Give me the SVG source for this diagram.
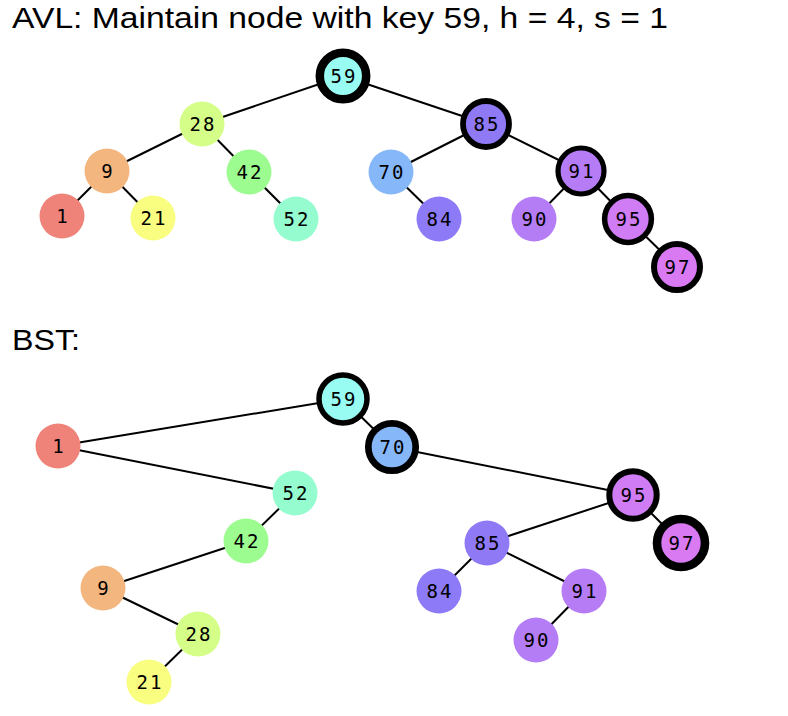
<svg xmlns="http://www.w3.org/2000/svg" width="788" height="716" viewBox="0 0 788 716">
<style>
.t{font-family:"Liberation Sans",Arial,sans-serif;font-size:29px;fill:#000}
.e line{stroke:#000;stroke-width:2}
.n circle{stroke:none}
.n .k{stroke:#000}
.n text{font-family:"DejaVu Sans Mono",monospace;font-size:19px;text-anchor:middle;letter-spacing:2px;fill:#000}
</style>
<rect width="788" height="716" fill="#fff"/>
<text class="t" x="12" y="28" textLength="656" lengthAdjust="spacingAndGlyphs">AVL: Maintain node with key 59, h = 4, s = 1</text>
<text class="t" x="12" y="350" textLength="68" lengthAdjust="spacingAndGlyphs">BST:</text>
<g class="e" id="connectors">
<line x1="343" y1="76" x2="202" y2="124"/>
<line x1="343" y1="76" x2="486" y2="124"/>
<line x1="202" y1="124" x2="107" y2="171"/>
<line x1="202" y1="124" x2="249" y2="172"/>
<line x1="107" y1="171" x2="62" y2="216"/>
<line x1="107" y1="171" x2="153" y2="218"/>
<line x1="249" y1="172" x2="296" y2="219"/>
<line x1="486" y1="124" x2="391" y2="172"/>
<line x1="486" y1="124" x2="581" y2="171"/>
<line x1="391" y1="172" x2="439" y2="219"/>
<line x1="581" y1="171" x2="534" y2="219"/>
<line x1="581" y1="171" x2="628" y2="219"/>
<line x1="628" y1="219" x2="677" y2="267"/>
<line x1="58" y1="446" x2="343" y2="399"/>
<line x1="58" y1="446" x2="295" y2="493"/>
<line x1="343" y1="399" x2="392" y2="447"/>
<line x1="392" y1="447" x2="633" y2="495"/>
<line x1="633" y1="495" x2="681" y2="543"/>
<line x1="633" y1="495" x2="487" y2="543"/>
<line x1="487" y1="543" x2="439" y2="591"/>
<line x1="487" y1="543" x2="584" y2="591"/>
<line x1="584" y1="591" x2="536" y2="640"/>
<line x1="295" y1="493" x2="246" y2="541"/>
<line x1="246" y1="541" x2="103" y2="588"/>
<line x1="103" y1="588" x2="198" y2="634"/>
<line x1="198" y1="634" x2="149" y2="682"/>
</g>
<g class="n">
<g id="avl-59"><circle class="k" cx="343" cy="76" r="23.2" stroke-width="8.5" fill="#99fcf2"/><text x="344" y="83">59</text></g>
<g id="avl-28"><circle cx="202" cy="124" r="22.5" fill="#d5fe88"/><text x="203" y="131">28</text></g>
<g id="avl-85"><circle class="k" cx="486" cy="124" r="23" stroke-width="5.8" fill="#8f79f5"/><text x="487" y="131">85</text></g>
<g id="avl-9"><circle cx="107" cy="171" r="22.5" fill="#f3b67e"/><text x="108" y="178">9</text></g>
<g id="avl-42"><circle cx="249" cy="172" r="22.5" fill="#9cfc8f"/><text x="250" y="179">42</text></g>
<g id="avl-70"><circle cx="391" cy="172" r="22.5" fill="#86b7f8"/><text x="392" y="179">70</text></g>
<g id="avl-91"><circle class="k" cx="581" cy="171" r="23" stroke-width="5.2" fill="#b57cf5"/><text x="582" y="178">91</text></g>
<g id="avl-1"><circle cx="62" cy="216" r="22.5" fill="#ef837a"/><text x="63" y="223">1</text></g>
<g id="avl-21"><circle cx="153" cy="218" r="22.5" fill="#f9fd80"/><text x="154" y="225">21</text></g>
<g id="avl-52"><circle cx="296" cy="219" r="22.5" fill="#95fcd0"/><text x="297" y="226">52</text></g>
<g id="avl-84"><circle cx="439" cy="219" r="22.5" fill="#8c7af6"/><text x="440" y="226">84</text></g>
<g id="avl-90"><circle cx="534" cy="219" r="22.5" fill="#b47df5"/><text x="535" y="226">90</text></g>
<g id="avl-95"><circle class="k" cx="628" cy="219" r="23.4" stroke-width="5.5" fill="#d07cf5"/><text x="629" y="226">95</text></g>
<g id="avl-97"><circle class="k" cx="677" cy="267" r="23" stroke-width="6" fill="#d97af3"/><text x="678" y="274">97</text></g>
<g id="bst-59"><circle class="k" cx="343" cy="399" r="24" stroke-width="5.5" fill="#99fcf2"/><text x="344" y="406">59</text></g>
<g id="bst-1"><circle cx="58" cy="446" r="22.5" fill="#ef837a"/><text x="59" y="453">1</text></g>
<g id="bst-70"><circle class="k" cx="392" cy="447" r="23.7" stroke-width="6.7" fill="#86b7f8"/><text x="393" y="454">70</text></g>
<g id="bst-52"><circle cx="295" cy="493" r="22.5" fill="#95fcd0"/><text x="296" y="500">52</text></g>
<g id="bst-95"><circle class="k" cx="633" cy="495" r="23.7" stroke-width="6" fill="#d07cf5"/><text x="634" y="502">95</text></g>
<g id="bst-42"><circle cx="246" cy="541" r="22.5" fill="#9cfc8f"/><text x="247" y="548">42</text></g>
<g id="bst-85"><circle cx="487" cy="543" r="22.5" fill="#8f79f5"/><text x="488" y="550">85</text></g>
<g id="bst-97"><circle class="k" cx="681" cy="543" r="24" stroke-width="8.6" fill="#d97af3"/><text x="682" y="550">97</text></g>
<g id="bst-9"><circle cx="103" cy="588" r="22.5" fill="#f3b67e"/><text x="104" y="595">9</text></g>
<g id="bst-84"><circle cx="439" cy="591" r="22.5" fill="#8c7af6"/><text x="440" y="598">84</text></g>
<g id="bst-91"><circle cx="584" cy="591" r="22.5" fill="#b57cf5"/><text x="585" y="598">91</text></g>
<g id="bst-28"><circle cx="198" cy="634" r="22.5" fill="#d5fe88"/><text x="199" y="641">28</text></g>
<g id="bst-90"><circle cx="536" cy="640" r="22.5" fill="#b47df5"/><text x="537" y="647">90</text></g>
<g id="bst-21"><circle cx="149" cy="682" r="22.5" fill="#f9fd80"/><text x="150" y="689">21</text></g>
</g>
</svg>
